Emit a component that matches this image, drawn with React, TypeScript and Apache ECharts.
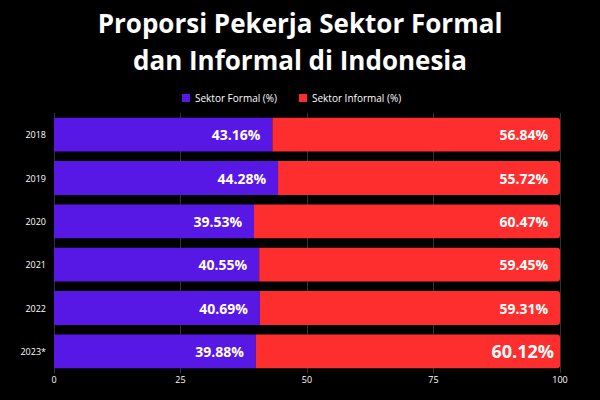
import React, { useEffect, useRef } from "react";
import * as echarts from "echarts";

const years = ["2018", "2019", "2020", "2021", "2022", "2023*"];
const formal = [43.16, 44.28, 39.53, 40.55, 40.69, 39.88];
const informal = [56.84, 55.72, 60.47, 59.45, 59.31, 60.12];
const xTicks = [0, 25, 50, 75, 100];

export default function App() {
  const ref = useRef<HTMLDivElement>(null);
  useEffect(() => {
    const chart = echarts.init(ref.current!, null, { renderer: "svg" });
    const font = "'Open Sans', 'Noto Sans', sans-serif";
    const lbl = () => ({
      show: true,
      position: "insideRight",
      distance: 12,
      color: "#ffffff",
      fontWeight: "bold",
      fontFamily: font,
      fontSize: 14,
      formatter: (p: any) => p.value.toFixed(2) + "%",
    });
    chart.setOption({
      animation: false,
      backgroundColor: "#000000",
      textStyle: { fontFamily: font },
      title: {
        text: "Proporsi Pekerja Sektor Formal\ndan Informal di Indonesia",
        left: "center",
        top: -1,
        textStyle: {
          color: "#ffffff",
          fontSize: 26,
          fontWeight: "bold",
          fontFamily: font,
          lineHeight: 37,
        },
      },
      legend: {
        top: 88,
        left: 177,
        itemWidth: 8,
        itemHeight: 8,
        itemGap: 22,
        icon: "rect",
        textStyle: { color: "#ffffff", fontSize: 10, fontFamily: font },
        data: ["Sektor Formal (%)", "Sektor Informal (%)"],
      },
      grid: { left: 54, right: 40, top: 113, bottom: 27, containLabel: false },
      xAxis: {
        type: "value",
        min: xTicks[0],
        max: xTicks[xTicks.length - 1],
        interval: 25,
        axisLine: { show: false },
        axisTick: { show: false },
        splitLine: { show: true, lineStyle: { color: "#333333", width: 1 } },
        axisLabel: { color: "#ffffff", fontSize: 9, fontFamily: font, margin: 2 },
      },
      yAxis: {
        type: "category",
        data: years,
        inverse: true,
        axisLine: { show: false },
        axisTick: { show: false },
        axisLabel: { color: "#ffffff", fontSize: 9, fontFamily: font, margin: 8 },
      },
      series: [
        {
          name: "Sektor Formal (%)",
          type: "bar",
          stack: "total",
          barWidth: "78%",
          itemStyle: { color: "#5718E6" },
          label: lbl(),
          data: formal,
        },
        {
          name: "Sektor Informal (%)",
          type: "bar",
          stack: "total",
          barWidth: "78%",
          itemStyle: { color: "#FF2E2E", borderRadius: [0, 3, 3, 0] },
          label: lbl(),
          data: informal.map((v, i) =>
            i === 5 ? { value: v, label: { fontSize: 18, distance: 6 } } : v
          ),
        },
      ],
    });
    return () => chart.dispose();
  }, []);
  return <div ref={ref} style={{ width: 600, height: 400, position: "absolute", left: 0, top: 0 }} />;
}
